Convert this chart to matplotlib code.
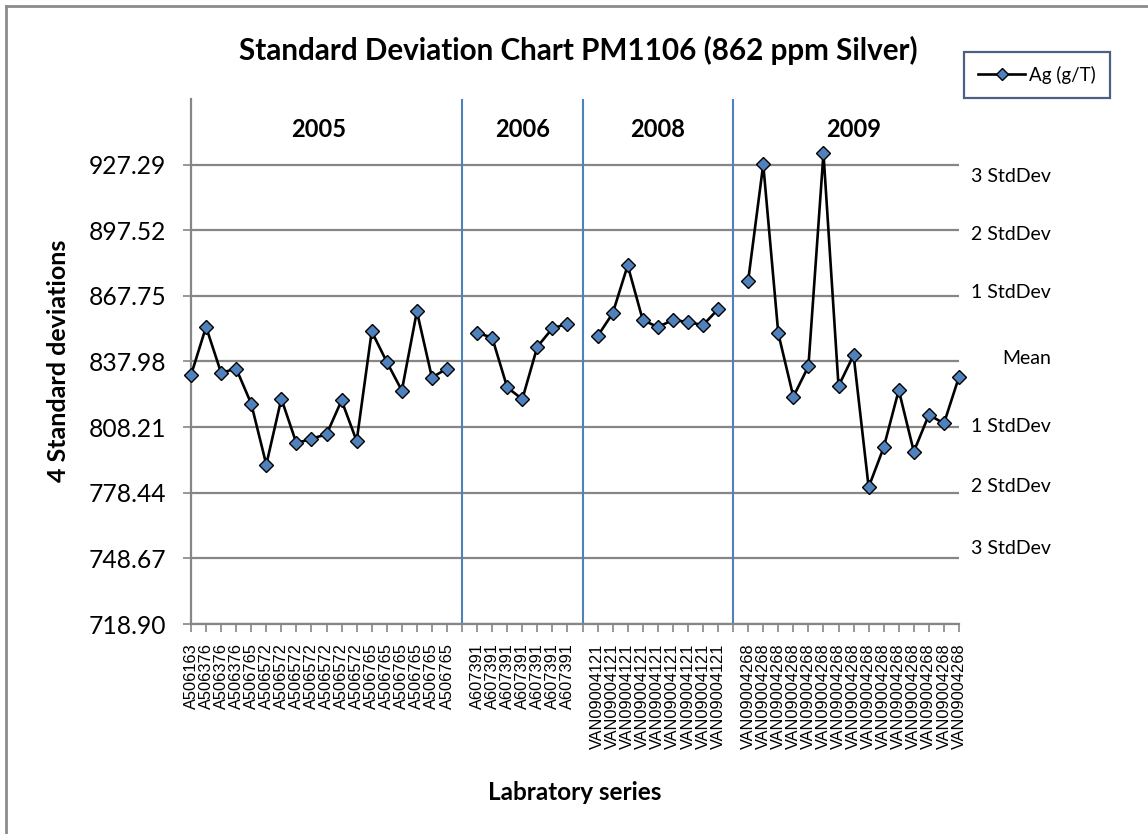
import numpy as np
import matplotlib.pyplot as plt
from matplotlib.lines import Line2D

plt.rcParams['font.family'] = ['Lato', 'DejaVu Sans']

years = ['2005', '2006', '2008', '2009']
lab_2005 = ['A506163'] + ['A506376'] * 3 + ['A506765'] + ['A506572'] * 7 + ['A506765'] * 6
lab_2006 = ['A607391'] * 7
lab_2008 = ['VAN09004121'] * 9
lab_2009 = ['VAN09004268'] * 15

ag_2005 = [831.8, 853.7, 832.8, 834.8, 818.8, 791.2, 821.1, 800.9, 803.0,
           804.9, 820.3, 801.9, 851.6, 837.8, 824.8, 860.7, 830.7, 834.8]
ag_2006 = [851.0, 848.8, 826.2, 820.9, 844.7, 853.0, 855.1]
ag_2008 = [849.5, 859.8, 881.6, 856.8, 853.6, 856.8, 855.9, 854.5, 861.7]
ag_2009 = [874.7, 927.4, 850.7, 822.0, 835.8, 932.4, 826.8, 840.9, 781.0,
           799.0, 825.0, 797.1, 813.8, 809.9, 831.0]

mean = 837.98
sd = 29.77
sd_names = ['3 StdDev', '2 StdDev', '1 StdDev', 'Mean', '1 StdDev', '2 StdDev', '3 StdDev']
sd_text_y = [176, 235, 293, 358, 426, 487, 548]  # pixel rows of the side notes

# one empty category between the years, a separator line sits on it
groups = [(lab_2005, ag_2005), (lab_2006, ag_2006), (lab_2008, ag_2008), (lab_2009, ag_2009)]
labels, values, seps, centers = [], [], [], []
for i, (labs, vals) in enumerate(groups):
    if i > 0:
        seps.append(len(labels))
        labels.append('')
        values.append(np.nan)
    start = len(labels)
    labels += labs
    values += vals
    centers.append((start + len(labels) - 1) / 2)
x = np.arange(len(labels))

W, H = 1148, 834
fig = plt.figure(figsize=(W / 100, H / 100), dpi=100)
ax = fig.add_axes([191 / W, 1 - 624 / H, (959 - 191) / W, (624 - 99) / H])

grid_c = '#868686'
ax.set_xlim(0, len(labels) - 1)
ax.set_ylim(mean - 4 * sd, mean + 4 * sd)
yt = [mean + k * sd for k in range(-4, 4)]
ax.set_yticks(yt)
ax.set_yticklabels(['%.2f' % v for v in yt], fontsize=17.7)
ax.yaxis.grid(True, color=grid_c, linewidth=1.6)
ax.set_axisbelow(True)
ax.set_xticks(x)
ax.set_xticklabels(labels, rotation=90, fontsize=11.8, family='Liberation Sans')
ax.tick_params(axis='both', color=grid_c, width=1.2, length=6)
ax.tick_params(axis='y', pad=12)
ax.tick_params(axis='x', pad=8)
for s in ['top', 'right']:
    ax.spines[s].set_visible(False)
for s in ['left', 'bottom']:
    ax.spines[s].set_color(grid_c)
    ax.spines[s].set_linewidth(1.6)

for s in seps:
    ax.axvline(s, color='#4F81BD', linewidth=1.5, zorder=1)

ax.plot(x, values, color='black', linewidth=1.9, marker='D', markersize=7.6,
        markerfacecolor='#4F81BD', markeredgecolor='black', markeredgewidth=1.0,
        clip_on=False, zorder=3)

for yr, c in zip(years, centers):
    ax.text(c, mean + 3.53 * sd, yr, ha='center', va='center', fontsize=17, fontweight='bold')

for name, py in zip(sd_names, sd_text_y):
    fig.text(1051 / W, 1 - py / H, name, ha='right', va='center', fontsize=14)

fig.text(578 / W, 1 - 50 / H, 'Standard Deviation Chart PM1106 (862 ppm Silver)',
         ha='center', va='center', fontsize=21.3, fontweight='bold')
fig.text(58 / W, 1 - 361 / H, '4 Standard deviations', rotation=90,
         ha='center', va='center', fontsize=18, fontweight='bold')
fig.text(575 / W, 1 - 792 / H, 'Labratory series', ha='center', va='center',
         fontsize=17.5, fontweight='bold')

handle = Line2D([], [], color='black', linewidth=1.9, marker='D', markersize=6,
                markerfacecolor='#4F81BD', markeredgecolor='black')
leg = fig.legend([handle], ['Ag (g/T)'], loc='center', bbox_to_anchor=(1037 / W, 1 - 75 / H),
                 fontsize=13.5, frameon=True, fancybox=False, handlelength=2.5,
                 borderpad=0.75, handletextpad=0.2)
leg.get_frame().set_edgecolor('#1F3864')
leg.get_frame().set_linewidth(1.6)

# chart area border (top and left edges are visible in the crop)
fig.add_artist(Line2D([6 / W, 1], [1 - 6 / H, 1 - 6 / H], color='#8C8C8C', linewidth=2,
                      transform=fig.transFigure))
fig.add_artist(Line2D([6 / W, 6 / W], [0, 1 - 6 / H], color='#8C8C8C', linewidth=2,
                      transform=fig.transFigure))

fig.savefig('out.png', dpi=100)
